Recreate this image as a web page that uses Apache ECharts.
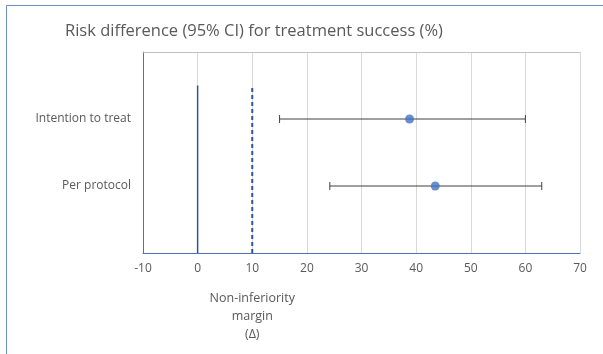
<!DOCTYPE html>
<html><head><meta charset="utf-8">
<script src="https://cdn.jsdelivr.net/npm/echarts@6/dist/echarts.min.js"></script>
<style>html,body{margin:0;padding:0;background:#fff}#c{width:603px;height:354px}</style>
</head><body><div id="c"></div>
<script>
const categories = ["Intention to treat", "Per protocol"];
const rowY = [2, 1];
const estimates = [38.8, 43.5];
const lowerCI = [15.0, 24.2];
const upperCI = [60.0, 63.0];
const refZero = 0;
const niMargin = 10;
const refTop = 2.5;
const xTicks = [-10, 0, 10, 20, 30, 40, 50, 60, 70];

const font = '"Open Sans", "Noto Sans", sans-serif';
const textColor = '#595959';
const chart = echarts.init(document.getElementById('c'), null, {renderer: 'canvas'});

const ciData = categories.map((c, i) => [lowerCI[i], upperCI[i], rowY[i]]);
const ptData = categories.map((c, i) => [estimates[i], rowY[i]]);

chart.setOption({
  animation: false,
  title: {
    text: 'Risk difference (95% CI) for treatment success (%)',
    left: 60, top: 18,
    textStyle: {fontFamily: font, fontSize: 16.5, fontWeight: 'normal', color: textColor}
  },
  grid: {left: 143, right: 23, top: 52, bottom: 101},
  xAxis: [{
    type: 'value', min: xTicks[0], max: xTicks[xTicks.length - 1], interval: 10,
    axisLine: {show: true, lineStyle: {color: '#4a72b8', width: 1}},
    axisTick: {show: false},
    axisLabel: {color: textColor, fontFamily: font, fontSize: 12, margin: 10},
    splitLine: {show: true, lineStyle: {color: '#d9d9d9', width: 1}}
  }, {
    type: 'value', position: 'top', min: xTicks[0], max: xTicks[xTicks.length - 1], interval: 10,
    axisLine: {show: true, lineStyle: {color: '#b8c3d6', width: 1}},
    axisTick: {show: false}, axisLabel: {show: false}, splitLine: {show: false}
  }],
  yAxis: {
    type: 'value', min: 0, max: 3, interval: 1,
    axisLine: {show: true, onZero: false, lineStyle: {color: '#4a72b8', width: 1}},
    axisTick: {show: false},
    axisLabel: {
      color: textColor, fontFamily: font, fontSize: 12, margin: 12,
      formatter: v => { const i = rowY.indexOf(v); return i >= 0 ? categories[i] : ''; }
    },
    splitLine: {show: false}
  },
  series: [
    {
      type: 'line', data: [[refZero, 0], [refZero, refTop]], symbol: 'none',
      lineStyle: {color: '#2f5597', width: 1.5}, z: 3
    },
    {
      type: 'line', data: [[niMargin, 0], [niMargin, refTop]], symbol: 'none',
      lineStyle: {color: '#2f5597', width: 2, type: [4, 3]}, z: 3
    },
    {
      type: 'custom', data: ciData, z: 4,
      renderItem: (params, api) => {
        const y = api.value(2);
        const a = api.coord([api.value(0), y]);
        const b = api.coord([api.value(1), y]);
        const h = 4;
        const st = {stroke: '#404040', lineWidth: 1};
        return {type: 'group', children: [
          {type: 'line', shape: {x1: a[0], y1: a[1], x2: b[0], y2: b[1]}, style: st},
          {type: 'line', shape: {x1: a[0], y1: a[1] - h, x2: a[0], y2: a[1] + h}, style: st},
          {type: 'line', shape: {x1: b[0], y1: b[1] - h, x2: b[0], y2: b[1] + h}, style: st}
        ]};
      }
    },
    {
      type: 'scatter', data: ptData, symbol: 'circle', symbolSize: 9, z: 5,
      itemStyle: {color: '#4472c4'}
    }
  ]
});

const p = chart.convertToPixel({xAxisIndex: 0, yAxisIndex: 0}, [niMargin, 0]);
chart.setOption({
  graphic: [
    {type: 'rect', left: 4, top: 3, shape: {width: 640, height: 349},
     style: {fill: 'none', stroke: '#6f8fc0', lineWidth: 1}, silent: true},
    {type: 'text', x: p[0], y: p[1] + 36,
     style: {text: 'Non-inferiority\nmargin\n(Δ)', align: 'center', verticalAlign: 'top',
             fill: textColor, font: '12.5px ' + font, lineHeight: 18}}
  ]
});
</script></body></html>
